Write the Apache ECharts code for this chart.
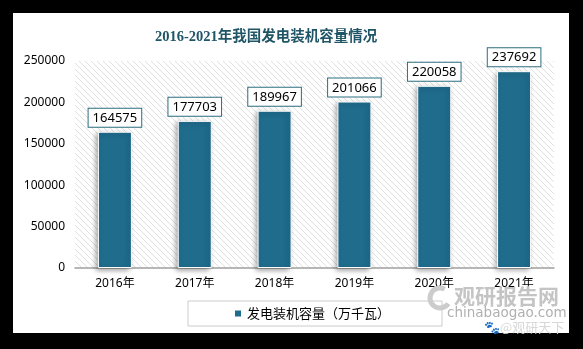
<!DOCTYPE html>
<html>
<head>
<meta charset="utf-8">
<script src="https://cdn.jsdelivr.net/npm/echarts@6/dist/echarts.min.js"></script>
<style>
html,body{margin:0;padding:0;background:#000;}
#chart{width:583px;height:349px;}
</style>
</head>
<body>
<div id="chart"></div>
<script>
var categories = ['2016年', '2017年', '2018年', '2019年', '2020年', '2021年'];
var capacity = [164575, 177703, 189967, 201066, 220058, 237692];
var seriesName = '发电装机容量（万千瓦）';
var titleText = '2016-2021年我国发电装机容量情况';

// hatch pattern for plot background
var pc = document.createElement('canvas');
pc.width = 6; pc.height = 6;
var ctx = pc.getContext('2d');
ctx.fillStyle = '#ffffff';
ctx.fillRect(0, 0, 6, 6);
ctx.strokeStyle = '#e0e0e0';
ctx.lineWidth = 1;
ctx.beginPath();
ctx.moveTo(-1, -1); ctx.lineTo(7, 7);
ctx.moveTo(-1, 5); ctx.lineTo(1, 7);
ctx.moveTo(5, -1); ctx.lineTo(7, 1);
ctx.stroke();

var chart = echarts.init(document.getElementById('chart'), null, {renderer: 'canvas'});
chart.setOption({
  backgroundColor: '#000',
  animation: false,
  title: {
    text: titleText,
    left: 150,
    top: 25,
    textStyle: {
      fontFamily: "'Liberation Serif', 'Noto Sans CJK SC', serif",
      fontWeight: 'bold',
      fontSize: 14.5,
      color: '#1f5566'
    }
  },
  graphic: [
    {type: 'rect', z: -10, silent: true, shape: {x: 13, y: 13, width: 556, height: 320}, style: {fill: '#fff'}},
    {type: 'arc', z: 100, silent: true, shape: {cx: 440, cy: 298, r: 10, startAngle: 0.6, endAngle: 5.2}, style: {stroke: '#cccccc', lineWidth: 5, fill: null}},
    {type: 'text', z: 100, silent: true, x: 454, y: 286, style: {text: '观研报告网', font: "bold 21px 'Noto Sans CJK SC'", fill: '#c4c4c4'}},
    {type: 'text', z: 100, silent: true, x: 447, y: 306, style: {text: 'chinabaogao.com', font: "13.5px 'DejaVu Sans'", fill: '#b0b0b0'}},
    {type: 'text', z: 100, silent: true, x: 484, y: 321, style: {text: '🐾@观研天下', font: "13px 'Noto Sans CJK SC'", fill: '#d8d8d8'}}
  ],
  legend: {
    data: [seriesName],
    left: 188,
    top: 301,
    padding: [6, 52, 6, 45],
    borderColor: '#cccccc',
    borderWidth: 1,
    backgroundColor: '#fff',
    itemWidth: 8,
    itemHeight: 8,
    itemGap: 5,
    icon: 'rect',
    textStyle: {fontFamily: "'Noto Sans CJK SC'", fontSize: 13, color: '#000'}
  },
  grid: {
    left: 75,
    right: 29,
    top: 61,
    bottom: 81,
    show: true,
    borderWidth: 0,
    backgroundColor: {image: pc, repeat: 'repeat'}
  },
  xAxis: {
    type: 'category',
    data: categories,
    axisLine: {lineStyle: {color: '#a0a0a0', width: 1.5}},
    axisTick: {show: false},
    axisLabel: {margin: 10, fontSize: 12, color: '#000', fontFamily: "'Noto Sans', 'Noto Sans CJK SC'"}
  },
  yAxis: {
    type: 'value',
    min: 0,
    max: 250000,
    interval: 50000,
    axisLine: {show: false},
    axisTick: {show: false},
    splitLine: {show: false},
    axisLabel: {margin: 10, fontSize: 12, color: '#000', fontFamily: "'Noto Sans'", formatter: function (v) { return String(v); }}
  },
  series: [{
    name: seriesName,
    type: 'bar',
    data: capacity,
    barWidth: 34,
    itemStyle: {
      color: '#1f6c8d',
      borderColor: '#ffffff',
      borderWidth: 1,
      shadowColor: 'rgba(0,0,0,0.35)',
      shadowBlur: 5,
      shadowOffsetX: -2,
      shadowOffsetY: 2
    },
    label: {
      show: true,
      position: 'top',
      distance: 5,
      color: '#000',
      fontSize: 13,
      fontFamily: "'Noto Sans'",
      backgroundColor: '#fff',
      borderColor: '#2b6e80',
      borderWidth: 1,
      padding: [3, 4, 2, 4]
    }
  }]
});
</script>
</body>
</html>
